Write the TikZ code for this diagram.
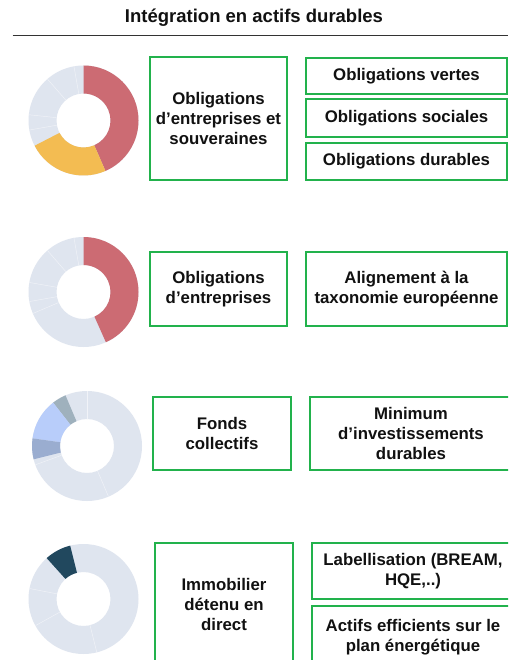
\documentclass[tikz,border=0pt]{standalone}
\usepackage{fontspec}
\setmainfont{Liberation Sans}
\usetikzlibrary{calc}
\definecolor{boxgreen}{HTML}{22B24C}
\definecolor{dred}{HTML}{CC6B73}
\definecolor{dyellow}{HTML}{F3BC52}
\definecolor{dgrey}{HTML}{DFE5EF}
\definecolor{dslate}{HTML}{9FB1BD}
\definecolor{dlblue}{HTML}{B8CDFA}
\definecolor{dbgrey}{HTML}{9AADD0}
\definecolor{dnavy}{HTML}{21485E}
\definecolor{txt}{HTML}{111111}
\newcommand{\dseg}[4]{% centre, start angle, end angle, colour
  \fill[#4] ($(#1)+(#2:55)$) arc[start angle=#2, end angle=#3, radius=55]
    -- ($(#1)+(#3:27)$) arc[start angle=#3, end angle=#2, radius=27] -- cycle;}
\newcommand{\dsep}[2]{%
  \draw[white!55!dgrey, line width=0.45pt] ($(#1)+(#2:27)$) -- ($(#1)+(#2:55)$);}
\begin{document}
\begin{tikzpicture}[x=1pt,y=1pt,
  box/.style={draw=boxgreen, line width=2pt, align=center, inner sep=0pt,
    text=txt, font=\fontsize{16.8}{20}\selectfont\bfseries}]
\clip (0,0) rectangle (508,-660);
\fill[white] (0,0) rectangle (508,-660);
% title
\node[text=txt, font=\fontsize{18.5}{22}\selectfont\bfseries] (title) at (254,-18) {Intégration en actifs durables};
\coordinate (ruleL) at (12.5,-35.5);
\coordinate (ruleR) at (508,-35.5);
\draw[line width=1pt, black!80] (ruleL) -- (ruleR);
% donut 1
\coordinate (d1) at (83.5,-120.5);
\dseg{d1}{0}{360}{dgrey}
\dseg{d1}{90}{-66.5}{dred}
\dseg{d1}{-66.5}{-152.7}{dyellow}
\dsep{d1}{100}\dsep{d1}{131}\dsep{d1}{174}\dsep{d1}{190}
% donut 2
\coordinate (d2) at (83.5,-292);
\dseg{d2}{0}{360}{dgrey}
\dseg{d2}{90}{-66}{dred}
\dsep{d2}{100}\dsep{d2}{131}\dsep{d2}{170}\dsep{d2}{190}\dsep{d2}{203}
% donut 3
\coordinate (d3) at (87,-446);
\dseg{d3}{0}{360}{dgrey}
\dseg{d3}{113}{128}{dslate}
\dseg{d3}{128}{172}{dlblue}
\dseg{d3}{172}{194}{dbgrey}
\dsep{d3}{90}\dsep{d3}{200}\dsep{d3}{-67}
% donut 4
\coordinate (d4) at (83.5,-599);
\dseg{d4}{0}{360}{dgrey}
\dseg{d4}{104}{132}{dnavy}
\dsep{d4}{169}\dsep{d4}{209}\dsep{d4}{-76}
% row 1 boxes
\node[box, minimum width=137pt, minimum height=123pt] (b1) at (218.5,-118.5)
  {Obligations\\d’entreprises et\\souveraines};
\node[box, minimum width=201pt, minimum height=36pt] (b1a) at (406.5,-76) {Obligations vertes};
\node[box, minimum width=201pt, minimum height=38pt] (b1b) at (406.5,-118) {Obligations sociales};
\node[box, minimum width=201pt, minimum height=37pt] (b1c) at (406.5,-161.5) {Obligations durables};
% row 2 boxes
\node[box, minimum width=137pt, minimum height=74pt] (b2) at (218.5,-289)
  {Obligations\\d’entreprises};
\node[box, minimum width=201pt, minimum height=74pt] (b2a) at (406.5,-289)
  {Alignement à la\\taxonomie européenne};
% row 3 boxes
\node[box, minimum width=138pt, minimum height=73pt] (b3) at (222,-433.5)
  {Fonds\\collectifs};
\node[box, minimum width=202pt, minimum height=73pt] (b3a) at (411,-433.5)
  {Minimum\\d’investissements\\durables};
% row 4 boxes
\node[box, minimum width=138pt, minimum height=123pt] (b4) at (224,-604.5)
  {Immobilier\\détenu en\\direct};
\node[box, minimum width=202pt, minimum height=56pt] (b4a) at (413,-571)
  {Labellisation (BREAM,\\HQE,..)};
\node[box, minimum width=202pt, minimum height=62pt] (b4b) at (413,-637)
  {Actifs efficients sur le\\plan énergétique};
\end{tikzpicture}
\end{document}
